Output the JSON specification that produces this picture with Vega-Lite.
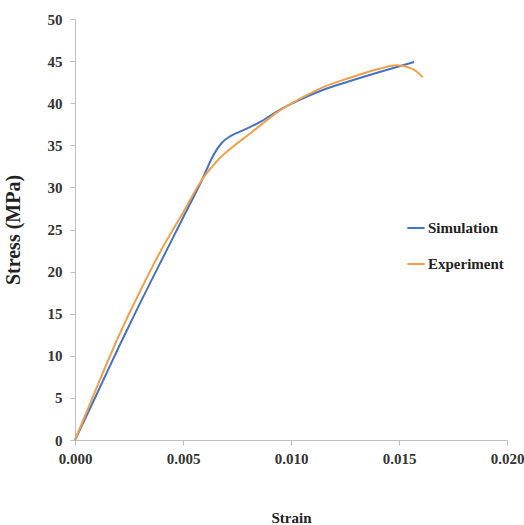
{
  "$schema": "https://vega.github.io/schema/vega-lite/v6.json",
  "width": 432,
  "height": 421,
  "autosize": {"type": "none"},
  "padding": {"left": 75, "top": 19, "right": 17, "bottom": 85},
  "background": "white",
  "config": {
    "view": {"stroke": null},
    "font": "Liberation Serif"
  },
  "data": {
    "values": [
      {"series": "Simulation", "strain": 0.0, "stress": 0.0},
      {"series": "Simulation", "strain": 0.001, "stress": 5.4},
      {"series": "Simulation", "strain": 0.002, "stress": 10.9},
      {"series": "Simulation", "strain": 0.003, "stress": 16.2},
      {"series": "Simulation", "strain": 0.004, "stress": 21.3},
      {"series": "Simulation", "strain": 0.005, "stress": 26.4},
      {"series": "Simulation", "strain": 0.0059, "stress": 31.0},
      {"series": "Simulation", "strain": 0.0064, "stress": 33.8},
      {"series": "Simulation", "strain": 0.0068, "stress": 35.3},
      {"series": "Simulation", "strain": 0.0072, "stress": 36.1},
      {"series": "Simulation", "strain": 0.0078, "stress": 36.8},
      {"series": "Simulation", "strain": 0.0086, "stress": 37.8},
      {"series": "Simulation", "strain": 0.0094, "stress": 39.1},
      {"series": "Simulation", "strain": 0.0104, "stress": 40.4},
      {"series": "Simulation", "strain": 0.0115, "stress": 41.6},
      {"series": "Simulation", "strain": 0.0127, "stress": 42.6},
      {"series": "Simulation", "strain": 0.0141, "stress": 43.7},
      {"series": "Simulation", "strain": 0.0157, "stress": 44.9},
      {"series": "Experiment", "strain": 0.0, "stress": 0.0},
      {"series": "Experiment", "strain": 0.001, "stress": 6.2},
      {"series": "Experiment", "strain": 0.002, "stress": 12.2},
      {"series": "Experiment", "strain": 0.003, "stress": 17.6},
      {"series": "Experiment", "strain": 0.004, "stress": 22.6},
      {"series": "Experiment", "strain": 0.005, "stress": 27.0},
      {"series": "Experiment", "strain": 0.0059, "stress": 31.0},
      {"series": "Experiment", "strain": 0.0066, "stress": 33.2},
      {"series": "Experiment", "strain": 0.0072, "stress": 34.6},
      {"series": "Experiment", "strain": 0.008, "stress": 36.2},
      {"series": "Experiment", "strain": 0.0086, "stress": 37.4},
      {"series": "Experiment", "strain": 0.0094, "stress": 39.0},
      {"series": "Experiment", "strain": 0.0104, "stress": 40.5},
      {"series": "Experiment", "strain": 0.0115, "stress": 41.9},
      {"series": "Experiment", "strain": 0.0127, "stress": 43.0},
      {"series": "Experiment", "strain": 0.0141, "stress": 44.1},
      {"series": "Experiment", "strain": 0.0149, "stress": 44.5},
      {"series": "Experiment", "strain": 0.0154, "stress": 44.3},
      {"series": "Experiment", "strain": 0.0158, "stress": 43.8},
      {"series": "Experiment", "strain": 0.0161, "stress": 43.1}
    ]
  },
  "mark": {"type": "line", "interpolate": "monotone", "strokeWidth": 2},
  "encoding": {
    "x": {
      "field": "strain",
      "type": "quantitative",
      "scale": {"domain": [0, 0.02], "nice": false, "zero": true},
      "axis": {
        "title": "Strain",
        "values": [0, 0.005, 0.01, 0.015, 0.02],
        "format": ".3f",
        "grid": false,
        "domainColor": "#BFBFBF",
        "tickColor": "#BFBFBF",
        "tickSize": 5,
        "labelFont": "Liberation Serif",
        "labelFontSize": 15,
        "labelFontWeight": "bold",
        "labelColor": "#333333",
        "labelPadding": 6,
        "labelFlush": false,
        "titleFont": "Liberation Serif",
        "titleFontSize": 15,
        "titleFontWeight": "bold",
        "titleColor": "#222222",
        "titlePadding": 44
      }
    },
    "y": {
      "field": "stress",
      "type": "quantitative",
      "scale": {"domain": [0, 50], "nice": false},
      "axis": {
        "title": "Stress (MPa)",
        "values": [0, 5, 10, 15, 20, 25, 30, 35, 40, 45, 50],
        "grid": false,
        "domainColor": "#BFBFBF",
        "tickColor": "#BFBFBF",
        "tickSize": 5,
        "labelFont": "Liberation Serif",
        "labelFontSize": 15,
        "labelFontWeight": "bold",
        "labelColor": "#333333",
        "labelPadding": 8,
        "labelFlush": false,
        "titleFont": "Liberation Serif",
        "titleFontSize": 20,
        "titleFontWeight": "bold",
        "titleColor": "#222222",
        "titlePadding": 24
      }
    },
    "color": {
      "field": "series",
      "type": "nominal",
      "scale": {"domain": ["Simulation", "Experiment"], "range": ["#4472C4", "#F0A04B"]},
      "legend": {
        "title": null,
        "orient": "none",
        "legendX": 331,
        "legendY": 199,
        "symbolType": "stroke",
        "symbolSize": 300,
        "symbolStrokeWidth": 2,
        "labelFont": "Liberation Serif",
        "labelFontSize": 15,
        "labelFontWeight": "bold",
        "labelColor": "#222222",
        "labelOffset": 2,
        "rowPadding": 18
      }
    }
  }
}
